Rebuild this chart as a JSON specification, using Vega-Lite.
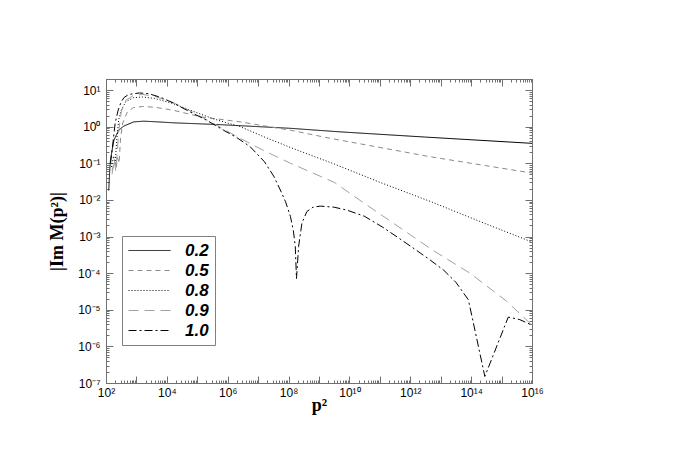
{
  "$schema": "https://vega.github.io/schema/vega-lite/v6.json",
  "width": 426,
  "height": 304,
  "autosize": "none",
  "padding": {"left": 106, "top": 79, "right": 149, "bottom": 80},
  "background": "white",
  "config": {"view": {"stroke": null}, "font": "Liberation Sans"},
  "data": {"values": [
    {"series": "0.2", "p2": 123, "im": 0.018},
    {"series": "0.2", "p2": 132, "im": 0.06},
    {"series": "0.2", "p2": 141, "im": 0.13},
    {"series": "0.2", "p2": 182, "im": 0.43},
    {"series": "0.2", "p2": 263, "im": 0.8},
    {"series": "0.2", "p2": 380, "im": 1.03},
    {"series": "0.2", "p2": 813, "im": 1.35},
    {"series": "0.2", "p2": 1740, "im": 1.41},
    {"series": "0.2", "p2": 5000, "im": 1.35},
    {"series": "0.2", "p2": 17000, "im": 1.27},
    {"series": "0.2", "p2": 100000, "im": 1.2},
    {"series": "0.2", "p2": 740000, "im": 1.12},
    {"series": "0.2", "p2": 1.15e8, "im": 0.9},
    {"series": "0.2", "p2": 5e9, "im": 0.72},
    {"series": "0.2", "p2": 3e12, "im": 0.52},
    {"series": "0.2", "p2": 1e16, "im": 0.35},

    {"series": "0.5", "p2": 158, "im": 0.063},
    {"series": "0.5", "p2": 191, "im": 0.112},
    {"series": "0.5", "p2": 214, "im": 0.071},
    {"series": "0.5", "p2": 240, "im": 0.141},
    {"series": "0.5", "p2": 269, "im": 0.1},
    {"series": "0.5", "p2": 302, "im": 0.5},
    {"series": "0.5", "p2": 355, "im": 1.26},
    {"series": "0.5", "p2": 501, "im": 2.51},
    {"series": "0.5", "p2": 794, "im": 3.31},
    {"series": "0.5", "p2": 1585, "im": 3.55},
    {"series": "0.5", "p2": 3981, "im": 3.39},
    {"series": "0.5", "p2": 15849, "im": 2.82},
    {"series": "0.5", "p2": 125893, "im": 1.86},
    {"series": "0.5", "p2": 2.57e6, "im": 1.35},
    {"series": "0.5", "p2": 1.15e8, "im": 0.8},
    {"series": "0.5", "p2": 2.34e9, "im": 0.48},
    {"series": "0.5", "p2": 4.47e12, "im": 0.151},
    {"series": "0.5", "p2": 1e16, "im": 0.054},

    {"series": "0.8", "p2": 151, "im": 0.079},
    {"series": "0.8", "p2": 178, "im": 0.158},
    {"series": "0.8", "p2": 200, "im": 0.1},
    {"series": "0.8", "p2": 229, "im": 0.5},
    {"series": "0.8", "p2": 263, "im": 1.58},
    {"series": "0.8", "p2": 316, "im": 2.82},
    {"series": "0.8", "p2": 447, "im": 4.79},
    {"series": "0.8", "p2": 794, "im": 6.17},
    {"series": "0.8", "p2": 1585, "im": 6.46},
    {"series": "0.8", "p2": 3981, "im": 5.89},
    {"series": "0.8", "p2": 15849, "im": 4.27},
    {"series": "0.8", "p2": 58884, "im": 2.82},
    {"series": "0.8", "p2": 316228, "im": 1.66},
    {"series": "0.8", "p2": 2.57e6, "im": 1.0},
    {"series": "0.8", "p2": 1.58e7, "im": 0.525},
    {"series": "0.8", "p2": 1.15e8, "im": 0.269},
    {"series": "0.8", "p2": 3.16e9, "im": 0.0955},
    {"series": "0.8", "p2": 1e11, "im": 0.0302},
    {"series": "0.8", "p2": 4.47e12, "im": 0.00912},
    {"series": "0.8", "p2": 3.16e14, "im": 0.00219},
    {"series": "0.8", "p2": 1e16, "im": 0.000708},

    {"series": "0.9", "p2": 158, "im": 0.05},
    {"series": "0.9", "p2": 186, "im": 0.126},
    {"series": "0.9", "p2": 209, "im": 0.063},
    {"series": "0.9", "p2": 234, "im": 0.2},
    {"series": "0.9", "p2": 263, "im": 0.79},
    {"series": "0.9", "p2": 316, "im": 2.51},
    {"series": "0.9", "p2": 447, "im": 5.25},
    {"series": "0.9", "p2": 794, "im": 7.08},
    {"series": "0.9", "p2": 1585, "im": 7.59},
    {"series": "0.9", "p2": 3981, "im": 6.76},
    {"series": "0.9", "p2": 15849, "im": 4.57},
    {"series": "0.9", "p2": 58884, "im": 2.69},
    {"series": "0.9", "p2": 316228, "im": 1.26},
    {"series": "0.9", "p2": 2.57e6, "im": 0.479},
    {"series": "0.9", "p2": 1.58e7, "im": 0.219},
    {"series": "0.9", "p2": 1.15e8, "im": 0.1},
    {"series": "0.9", "p2": 3.16e9, "im": 0.0302},
    {"series": "0.9", "p2": 3.16e10, "im": 0.00794},
    {"series": "0.9", "p2": 5.89e11, "im": 0.00151},
    {"series": "0.9", "p2": 5.62e12, "im": 0.000417},
    {"series": "0.9", "p2": 9.12e13, "im": 0.0001},
    {"series": "0.9", "p2": 1.48e15, "im": 0.000017},
    {"series": "0.9", "p2": 1e16, "im": 0.0000038},

    {"series": "1.0", "p2": 141, "im": 0.1},
    {"series": "1.0", "p2": 166, "im": 0.316},
    {"series": "1.0", "p2": 200, "im": 1.26},
    {"series": "1.0", "p2": 251, "im": 2.82},
    {"series": "1.0", "p2": 316, "im": 4.79},
    {"series": "1.0", "p2": 398, "im": 6.31},
    {"series": "1.0", "p2": 562, "im": 7.59},
    {"series": "1.0", "p2": 1259, "im": 8.32},
    {"series": "1.0", "p2": 2512, "im": 7.94},
    {"series": "1.0", "p2": 6310, "im": 6.31},
    {"series": "1.0", "p2": 15849, "im": 4.47},
    {"series": "1.0", "p2": 58884, "im": 2.51},
    {"series": "1.0", "p2": 199526, "im": 1.51},
    {"series": "1.0", "p2": 741310, "im": 0.794},
    {"series": "1.0", "p2": 1.995e6, "im": 0.501},
    {"series": "1.0", "p2": 5.5e6, "im": 0.282},
    {"series": "1.0", "p2": 1.585e7, "im": 0.112},
    {"series": "1.0", "p2": 3.24e7, "im": 0.0447},
    {"series": "1.0", "p2": 5.37e7, "im": 0.0186},
    {"series": "1.0", "p2": 7.94e7, "im": 0.00891},
    {"series": "1.0", "p2": 1.148e8, "im": 0.00355},
    {"series": "1.0", "p2": 1.445e8, "im": 0.00141},
    {"series": "1.0", "p2": 1.66e8, "im": 0.000537},
    {"series": "1.0", "p2": 1.82e8, "im": 0.0000708},
    {"series": "1.0", "p2": 2.14e8, "im": 0.000537},
    {"series": "1.0", "p2": 2.75e8, "im": 0.00234},
    {"series": "1.0", "p2": 3.98e8, "im": 0.00479},
    {"series": "1.0", "p2": 6.31e8, "im": 0.00631},
    {"series": "1.0", "p2": 1.096e9, "im": 0.00676},
    {"series": "1.0", "p2": 3.16e9, "im": 0.00631},
    {"series": "1.0", "p2": 8.32e9, "im": 0.00525},
    {"series": "1.0", "p2": 3.16e10, "im": 0.00355},
    {"series": "1.0", "p2": 1.26e11, "im": 0.00178},
    {"series": "1.0", "p2": 3.98e11, "im": 0.000933},
    {"series": "1.0", "p2": 1.62e12, "im": 0.000417},
    {"series": "1.0", "p2": 4.47e12, "im": 0.000229},
    {"series": "1.0", "p2": 1.26e13, "im": 0.00012},
    {"series": "1.0", "p2": 3.16e13, "im": 0.0000562},
    {"series": "1.0", "p2": 8.13e13, "im": 0.0000186},
    {"series": "1.0", "p2": 2.82e14, "im": 1.51e-7},
    {"series": "1.0", "p2": 1.66e15, "im": 0.00000631},
    {"series": "1.0", "p2": 3.98e15, "im": 0.00000537},
    {"series": "1.0", "p2": 1e16, "im": 0.0000038}
  ]},
  "layer": [
    {
      "mark": {"type": "line", "strokeWidth": 1, "clip": true},
      "encoding": {
        "x": {"field": "p2", "type": "quantitative",
          "scale": {"type": "log", "domain": [100, 1e16], "nice": false},
          "axis": {"orient": "bottom", "values": [1e2, 1e4, 1e6, 1e8, 1e10, 1e12, 1e14, 1e16],
            "labelExpr": "round(log(datum.value)/LN10)>=10 ? '10¹'+['⁰','¹','²','³','⁴','⁵','⁶','⁷','⁸','⁹'][round(log(datum.value)/LN10)-10] : '10'+['⁰','¹','²','³','⁴','⁵','⁶','⁷','⁸','⁹'][round(log(datum.value)/LN10)]",
            "ticks": false, "grid": false, "domain": true, "domainColor": "#707070",
            "labelOverlap": false, "labelFlush": false, "labelFontSize": 12, "labelColor": "black", "labelPadding": 4, "labelDx": 2,
            "title": "p²", "titleFont": "Liberation Serif", "titleFontSize": 18, "titleFontWeight": "bold", "titleColor": "black",
            "titleY": 27, "titleBaseline": "alphabetic"}},
        "y": {"field": "im", "type": "quantitative",
          "scale": {"type": "log", "domain": [1e-7, 20], "nice": false},
          "axis": {"orient": "left", "values": [1e-7, 1e-6, 1e-5, 1e-4, 1e-3, 1e-2, 1e-1, 1, 10],
            "labelExpr": "'10'+(datum.value<0.5?'⁻':'')+['⁰','¹','²','³','⁴','⁵','⁶','⁷','⁸','⁹'][abs(round(log(datum.value)/LN10))]",
            "ticks": false, "grid": false, "domain": true, "domainColor": "#707070",
            "labelOverlap": false, "labelFlush": false, "labelFontSize": 12, "labelColor": "black", "labelPadding": 6,
            "title": "|Im M(p²)|", "titleFont": "Liberation Serif", "titleFontSize": 18, "titleFontWeight": "bold", "titleColor": "black",
            "titleX": -49, "titleY": 152, "titleAngle": -90, "titleAlign": "center", "titleBaseline": "middle"}},
        "color": {"field": "series", "type": "nominal",
          "scale": {"domain": ["0.2", "0.5", "0.8", "0.9", "1.0"], "range": ["#000000", "#8a8a8a", "#000000", "#a0a0a0", "#000000"]},
          "legend": {"title": null, "orient": "none", "legendX": 16, "legendY": 157, "symbolType": "stroke", "symbolSize": 1764,
            "symbolStrokeWidth": 1, "clipHeight": 17, "rowPadding": 2, "padding": 6, "labelFontSize": 17, "labelFontWeight": "bold",
            "labelFontStyle": "italic", "labelFont": "Liberation Sans", "labelColor": "black", "labelOffset": 14,
            "strokeColor": "#808080", "fillColor": "white", "labelLimit": 0}},
        "strokeDash": {"field": "series", "type": "nominal",
          "scale": {"domain": ["0.2", "0.5", "0.8", "0.9", "1.0"], "range": [[1, 0], [5, 4], [1, 2], [10, 6], [8, 3, 2, 3]]},
          "legend": {"title": null, "orient": "none", "legendX": 16, "legendY": 157, "symbolType": "stroke", "symbolSize": 1764,
            "symbolStrokeWidth": 1, "clipHeight": 17, "rowPadding": 2, "padding": 6, "labelFontSize": 17, "labelFontWeight": "bold",
            "labelFontStyle": "italic", "labelFont": "Liberation Sans", "labelColor": "black", "labelOffset": 14,
            "strokeColor": "#808080", "fillColor": "white", "labelLimit": 0}}
      }
    },
    {
      "mark": {"type": "line", "opacity": 0},
      "encoding": {
        "x": {"field": "p2", "type": "quantitative",
          "axis": {"orient": "top", "domain": true, "domainColor": "#707070", "ticks": false, "labels": false, "title": null, "grid": false}},
        "y": {"field": "im", "type": "quantitative",
          "axis": {"orient": "right", "domain": true, "domainColor": "#707070", "ticks": false, "labels": false, "title": null, "grid": false}}
      }
    },
    {
      "mark": {"type": "line", "opacity": 0},
      "encoding": {
        "x": {"field": "p2", "type": "quantitative",
          "axis": {"orient": "top", "tickCount": 150, "offset": -3, "tickSize": 3, "labels": false, "title": null, "grid": false, "domain": false, "tickColor": "#707070"}},
        "y": {"field": "im", "type": "quantitative",
          "axis": {"orient": "right", "tickCount": 100, "offset": -3, "tickSize": 3, "labels": false, "title": null, "grid": false, "domain": false, "tickColor": "#707070"}}
      }
    },
    {
      "mark": {"type": "line", "opacity": 0},
      "encoding": {
        "x": {"field": "p2", "type": "quantitative",
          "axis": {"orient": "top", "values": [1e2,1e3,1e4,1e5,1e6,1e7,1e8,1e9,1e10,1e11,1e12,1e13,1e14,1e15,1e16], "offset": -7, "tickSize": 7, "labels": false, "title": null, "grid": false, "domain": false, "tickColor": "#707070"}},
        "y": {"field": "im", "type": "quantitative",
          "axis": {"orient": "right", "values": [1e-7,1e-6,1e-5,1e-4,1e-3,1e-2,1e-1,1,10], "offset": -7, "tickSize": 7, "labels": false, "title": null, "grid": false, "domain": false, "tickColor": "#707070"}}
      }
    },
    {
      "mark": {"type": "line", "opacity": 0},
      "encoding": {
        "x": {"field": "p2", "type": "quantitative",
          "axis": {"orient": "bottom", "tickCount": 150, "offset": -3, "tickSize": 3, "labels": false, "title": null, "grid": false, "domain": false, "tickColor": "#707070"}},
        "y": {"field": "im", "type": "quantitative",
          "axis": {"orient": "left", "tickCount": 100, "offset": -3, "tickSize": 3, "labels": false, "title": null, "grid": false, "domain": false, "tickColor": "#707070"}}
      }
    },
    {
      "mark": {"type": "line", "opacity": 0},
      "encoding": {
        "x": {"field": "p2", "type": "quantitative",
          "axis": {"orient": "bottom", "values": [1e2,1e3,1e4,1e5,1e6,1e7,1e8,1e9,1e10,1e11,1e12,1e13,1e14,1e15,1e16], "offset": -7, "tickSize": 7, "labels": false, "title": null, "grid": false, "domain": false, "tickColor": "#707070"}},
        "y": {"field": "im", "type": "quantitative",
          "axis": {"orient": "left", "values": [1e-7,1e-6,1e-5,1e-4,1e-3,1e-2,1e-1,1,10], "offset": -7, "tickSize": 7, "labels": false, "title": null, "grid": false, "domain": false, "tickColor": "#707070"}}
      }
    }
  ],
  "resolve": {"axis": {"x": "independent", "y": "independent"}}
}
